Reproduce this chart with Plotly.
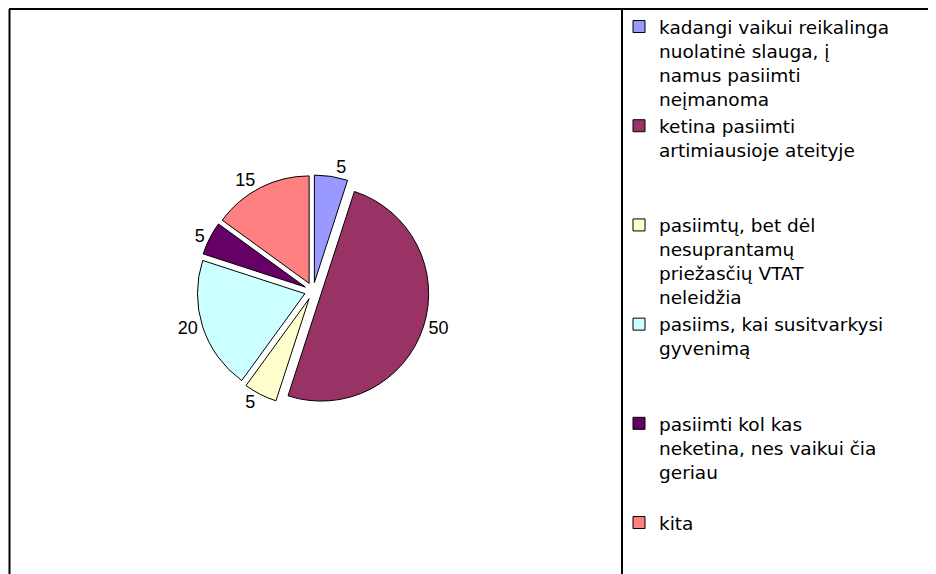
import plotly.graph_objects as go

categories = [
    "kadangi vaikui reikalinga<br>nuolatinė slauga, į<br>namus pasiimti<br>neįmanoma",
    "ketina pasiimti<br>artimiausioje ateityje",
    "pasiimtų, bet dėl<br>nesuprantamų<br>priežasčių VTAT<br>neleidžia",
    "pasiims, kai susitvarkysi<br>gyvenimą",
    "pasiimti kol kas<br>neketina, nes vaikui čia<br>geriau",
    "kita",
]
values = [5, 50, 5, 20, 5, 15]
colors = ["#9999FF", "#993366", "#FFFFCC", "#CCFFFF", "#660066", "#FF8080"]

W, H = 928, 566


def pad_lines(name, n=4):
    k = name.count("<br>") + 1
    return name + "<br>\u00a0" * (n - k)


legend_names = [pad_lines(c) for c in categories]

fig = go.Figure(
    go.Pie(
        labels=legend_names,
        values=values,
        sort=False,
        direction="clockwise",
        rotation=0,
        pull=[0.08] * len(values),
        marker=dict(colors=colors, line=dict(color="black", width=1)),
        textinfo="value",
        textposition="outside",
        textfont=dict(family="Liberation Sans, Arial, sans-serif", size=18, color="black"),
        domain=dict(x=[0.02, 0.6374], y=[0.295, 0.705]),
        hoverinfo="label+value",
        automargin=False,
    )
)

line_style = dict(color="black", width=2)
top = 1 - 1 / H
fig.update_layout(
    width=W,
    height=H,
    autosize=False,
    margin=dict(l=0, r=0, t=0, b=0, autoexpand=False),
    paper_bgcolor="white",
    plot_bgcolor="white",
    font=dict(family="DejaVu Sans, Liberation Sans, sans-serif", color="black"),
    showlegend=True,
    legend=dict(
        xref="container",
        yref="container",
        x=611 / W,
        xanchor="left",
        y=1 + 1 / H,
        yanchor="top",
        valign="top",
        maxheight=620,
        font=dict(family="DejaVu Sans, Liberation Sans, sans-serif", size=18.5, color="black"),
        bgcolor="rgba(0,0,0,0)",
        borderwidth=0,
    ),
    shapes=[
        dict(type="line", xref="paper", yref="paper", x0=1 / W, x1=1, y0=top, y1=top, line=line_style),
        dict(type="line", xref="paper", yref="paper", x0=1.5 / W, x1=1.5 / W, y0=0, y1=top, line=line_style),
        dict(type="line", xref="paper", yref="paper", x0=614 / W, x1=614 / W, y0=0, y1=top, line=line_style),
        dict(type="line", xref="paper", yref="paper", x0=927 / W, x1=927 / W, y0=0, y1=top, line=dict(color="#c8c8c8", width=1)),
    ],
)

fig.write_html("out.html")
